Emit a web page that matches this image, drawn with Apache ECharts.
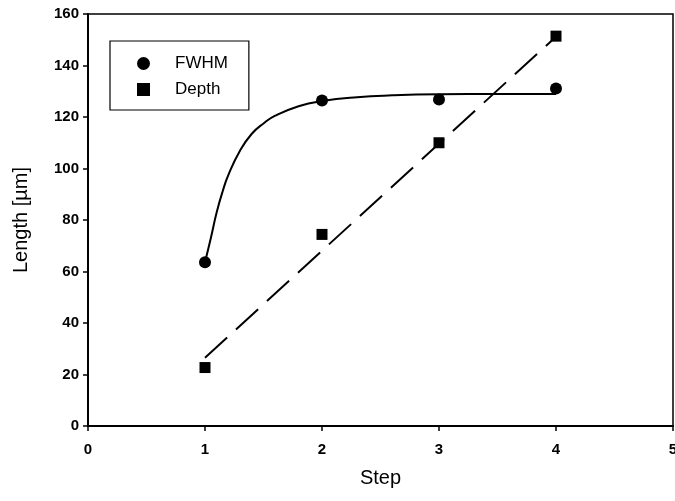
<!DOCTYPE html>
<html>
<head>
<meta charset="utf-8">
<script src="https://cdn.jsdelivr.net/npm/echarts@6/dist/echarts.min.js"></script>
<style>
  html, body { margin: 0; padding: 0; background: #fff; }
  #chart { width: 675px; height: 501px; }
</style>
</head>
<body>
<div id="chart"></div>
<script>
// measured points
var steps = [1, 2, 3, 4];
var fwhm = [63.6, 126.4, 126.8, 131.1];
var depth = [22.7, 74.4, 110.0, 151.4];

// fitted curves
var fwhmFitX = [1.0, 1.05, 1.1, 1.15, 1.2, 1.3, 1.4, 1.5, 1.6, 1.8, 2.0, 2.3, 2.6, 3.0, 3.5, 4.0];
var fwhmFitY = [63.6, 73, 83, 91, 97.5, 107, 113.5, 117.5, 120.5, 124.2, 126.2, 127.7, 128.4, 128.8, 128.9, 128.9];
var depthFitX = [1, 4];
var depthFitY = [26.5, 151.2];

var xTicks = [0, 5, 1];     // min, max, interval
var yTicks = [0, 160, 20];

function pairs(xs, ys) {
  return xs.map(function (x, i) { return [x, ys[i]]; });
}

var chart = echarts.init(document.getElementById("chart"));

var axisText = {
  color: "#000",
  fontFamily: "Liberation Sans",
  fontWeight: "bold",
  fontSize: 15,
};

var option = {
  backgroundColor: "#fff",
  animation: false,
  grid: {
    left: 88,
    right: 2,
    top: 14,
    bottom: 75,
    outerBoundsMode: "none",
    containLabel: false,
    show: true,
    borderColor: "#000",
    borderWidth: 1.5,
  },
  legend: {
    orient: "vertical",
    left: 110,
    top: 41,
    padding: [14, 21, 12, 27],
    itemGap: 9,
    itemWidth: 13,
    itemHeight: 13,
    borderColor: "#000",
    borderWidth: 1.2,
    textStyle: {
      color: "#000",
      fontFamily: "Liberation Sans",
      fontSize: 17,
      padding: [0, 0, 0, 20],
    },
    data: [
      { name: "FWHM", icon: "circle" },
      { name: "Depth", icon: "rect" },
    ],
  },
  xAxis: {
    type: "value",
    min: xTicks[0],
    max: xTicks[1],
    interval: xTicks[2],
    name: "Step",
    nameLocation: "middle",
    nameGap: 42,
    nameTextStyle: {
      color: "#000",
      fontFamily: "Liberation Sans",
      fontSize: 20,
    },
    axisLine: { lineStyle: { color: "#000", width: 2 } },
    axisTick: { show: true, length: 5, lineStyle: { color: "#000", width: 1.5 } },
    axisLabel: Object.assign({ margin: 16 }, axisText),
    splitLine: { show: false },
  },
  yAxis: {
    type: "value",
    min: yTicks[0],
    max: yTicks[1],
    interval: yTicks[2],
    name: "Length [µm]",
    nameLocation: "middle",
    nameGap: 57,
    nameTextStyle: {
      color: "#000",
      fontFamily: "Liberation Sans",
      fontSize: 20,
    },
    axisLine: { show: true, lineStyle: { color: "#000", width: 2 } },
    axisTick: { show: true, length: 5, lineStyle: { color: "#000", width: 1.5 } },
    axisLabel: Object.assign({ margin: 9 }, axisText),
    splitLine: { show: false },
  },
  series: [
    {
      name: "FWHM fit",
      type: "line",
      smooth: true,
      showSymbol: false,
      lineStyle: { color: "#000", width: 2 },
      data: pairs(fwhmFitX, fwhmFitY),
      z: 2,
    },
    {
      name: "Depth fit",
      type: "line",
      showSymbol: false,
      lineStyle: { color: "#000", width: 2, type: [30, 12] },
      data: pairs(depthFitX, depthFitY),
      z: 2,
    },
    {
      name: "FWHM",
      type: "scatter",
      symbol: "circle",
      symbolSize: 12,
      itemStyle: { color: "#000", opacity: 1 },
      data: pairs(steps, fwhm),
      z: 3,
    },
    {
      name: "Depth",
      type: "scatter",
      symbol: "rect",
      symbolSize: 11,
      itemStyle: { color: "#000", opacity: 1 },
      data: pairs(steps, depth),
      z: 3,
    },
  ],
};

chart.setOption(option);
</script>
</body>
</html>
